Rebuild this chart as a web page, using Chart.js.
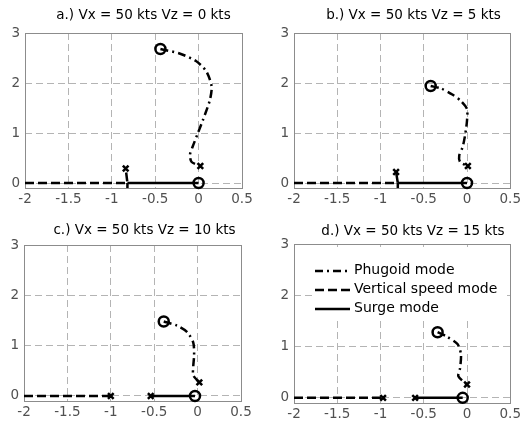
<!DOCTYPE html>
<html>
<head>
<meta charset="utf-8">
<script src="https://cdn.jsdelivr.net/npm/chart.js@4.4.1/dist/chart.umd.min.js"></script>
<style>
body { margin: 0; background: #fff; }
#wrap { position: relative; width: 524px; height: 425px; }
canvas { position: absolute; }
</style>
</head>
<body>
<div id="wrap">
    <canvas id="chartA" width="262" height="212" style="left:0;top:0"></canvas>
    <canvas id="chartB" width="262" height="212" style="left:262px;top:0"></canvas>
    <canvas id="chartC" width="262" height="213" style="left:0;top:212px"></canvas>
    <canvas id="chartD" width="262" height="213" style="left:262px;top:212px"></canvas>
</div>
<script>
// axis ticks shared by all four panels
const xTicks = [-2, -1.5, -1, -0.5, 0, 0.5];
const yTicks = [0, 1, 2, 3];
const legendLabels = ['Phugoid mode', 'Vertical speed mode', 'Surge mode'];

// a.) Vz = 0 kts
const phugoidA = [[-0.44, 2.68], [-0.22, 2.59], [-0.03, 2.44], [0.09, 2.23], [0.15, 1.93], [0.13, 1.66],
                  [0.05, 1.26], [-0.01, 0.99], [-0.07, 0.72], [-0.10, 0.56], [-0.08, 0.42], [0.02, 0.34]];
const verticalA = [[-2, 0], [-0.82, 0], [-0.84, 0.29]];
const branchA = [[-0.82, 0], [-0.82, -0.3]];
const surgeA = [[-0.82, 0], [0, 0]];
const zerosA = [[-0.44, 2.68], [0, 0]];
const polesA = [[0.02, 0.34], [-0.84, 0.29]];

// b.) Vz = 5 kts
const phugoidB = [[-0.42, 1.94], [-0.30, 1.89], [-0.17, 1.77], [-0.07, 1.64], [0.0, 1.48], [0.0, 1.25],
                  [-0.02, 0.98], [-0.05, 0.72], [-0.09, 0.55], [-0.08, 0.42], [0.01, 0.34]];
const verticalB = [[-2, 0], [-0.80, 0], [-0.82, 0.22]];
const branchB = [[-0.80, 0], [-0.80, -0.3]];
const surgeB = [[-0.80, 0], [0, 0]];
const zerosB = [[-0.42, 1.94], [0, 0]];
const polesB = [[0.01, 0.34], [-0.82, 0.22]];

// c.) Vz = 10 kts
const phugoidC = [[-0.39, 1.48], [-0.24, 1.40], [-0.12, 1.27], [-0.05, 1.06], [-0.04, 0.82],
                  [-0.05, 0.59], [-0.05, 0.41], [0.02, 0.27]];
const verticalC = [[-2, 0], [-1.0, 0]];
const surgeC = [[-0.54, 0], [-0.03, 0]];
const zerosC = [[-0.39, 1.48], [-0.03, 0]];
const polesC = [[0.02, 0.27], [-1.0, 0], [-0.54, 0]];

// d.) Vz = 15 kts
const phugoidD = [[-0.34, 1.28], [-0.23, 1.19], [-0.11, 1.05], [-0.07, 0.85], [-0.08, 0.58],
                  [-0.10, 0.42], [0.0, 0.26]];
const verticalD = [[-2, 0], [-0.97, 0]];
const surgeD = [[-0.60, 0], [-0.05, 0]];
const zerosD = [[-0.34, 1.28], [-0.05, 0]];
const polesD = [[0.0, 0.26], [-0.97, 0], [-0.60, 0]];

const FONT = 'DejaVu Sans';
const DASH = [9, 4];
const DASHDOT = [8, 4, 2, 4];

function toXY(pts) {
    return pts.map(p => ({ x: p[0], y: p[1] }));
}

function lineSet(pts, dash, tension) {
    return {
        data: toXY(pts),
        showLine: true,
        borderColor: '#000',
        borderWidth: 2.5,
        borderDash: dash,
        pointRadius: 0,
        tension: tension || 0
    };
}

function markerSet(pts, style, radius) {
    return {
        data: toXY(pts),
        showLine: false,
        pointStyle: style,
        pointRadius: radius,
        pointHoverRadius: radius,
        pointBorderWidth: 2.5,
        pointBorderColor: '#000',
        pointBackgroundColor: 'rgba(0,0,0,0)',
        clip: false
    };
}

// box around the axes, title, optional legend
const framePlugin = {
    id: 'frame',
    beforeDatasetsDraw(chart) {
        const a = chart.chartArea;
        const ctx = chart.ctx;
        ctx.save();
        ctx.strokeStyle = '#8c8c8c';
        ctx.lineWidth = 1;
        ctx.strokeRect(Math.round(a.left) + 0.5, Math.round(a.top) + 0.5,
                       Math.round(a.right - a.left), Math.round(a.bottom - a.top));
        ctx.restore();
    },
    afterDraw(chart, args, opts) {
        const ctx = chart.ctx;
        ctx.save();
        ctx.fillStyle = '#000';
        ctx.font = '13.5px "' + FONT + '"';
        ctx.textAlign = 'center';
        ctx.textBaseline = 'middle';
        ctx.fillText(opts.title, opts.titleX, opts.titleY);

        if (opts.legend) {
            const lg = opts.legend;
            ctx.fillStyle = '#fff';
            ctx.fillRect(lg.x, lg.y, lg.w, lg.h);
            const dashes = [DASHDOT, DASH, []];
            ctx.font = '14px "' + FONT + '"';
            ctx.textAlign = 'left';
            legendLabels.forEach((label, i) => {
                const y = lg.rowY + i * lg.rowGap;
                ctx.strokeStyle = '#000';
                ctx.lineWidth = 2.5;
                ctx.setLineDash(dashes[i]);
                ctx.beginPath();
                ctx.moveTo(lg.lineX0, y);
                ctx.lineTo(lg.lineX1, y);
                ctx.stroke();
                ctx.setLineDash([]);
                ctx.fillStyle = '#000';
                ctx.fillText(label, lg.textX, y - 1);
            });
        }
        ctx.restore();
    }
};

function makePanel(id, sets, box, frame) {
    const ctx = document.getElementById(id).getContext('2d');
    return new Chart(ctx, {
        type: 'scatter',
        data: { datasets: sets },
        options: {
            responsive: false,
            animation: false,
            events: [],
            layout: { padding: { left: 0, top: box.top, right: box.right, bottom: 0 } },
            plugins: {
                legend: { display: false },
                tooltip: { enabled: false },
                frame: frame
            },
            scales: {
                x: {
                    type: 'linear',
                    min: -2,
                    max: 0.5,
                    afterBuildTicks: s => { s.ticks = xTicks.map(v => ({ value: v })); },
                    afterFit: s => { s.height = box.bottomSpace; },
                    ticks: {
                        color: '#505050',
                        font: { family: FONT, size: 13.5 },
                        padding: 3,
                        maxRotation: 0,
                        callback: v => String(v)
                    },
                    grid: { color: '#b4b4b4', lineWidth: 1, drawTicks: false },
                    border: { display: false, dash: [7, 4] }
                },
                y: {
                    type: 'linear',
                    min: -0.1,
                    max: 3,
                    afterBuildTicks: s => { s.ticks = yTicks.map(v => ({ value: v })); },
                    afterFit: s => { s.width = box.left; },
                    ticks: {
                        color: '#505050',
                        font: { family: FONT, size: 13.5 },
                        padding: 5,
                        callback: v => String(v)
                    },
                    grid: { color: '#b4b4b4', lineWidth: 1, drawTicks: false },
                    border: { display: false, dash: [7, 4] }
                }
            }
        },
        plugins: [framePlugin]
    });
}

function panelSets(phugoid, vertical, branch, surge, zeros, poles) {
    const sets = [
        lineSet(phugoid, DASHDOT, 0.25),
        lineSet(vertical, DASH),
        lineSet(surge, [])
    ];
    if (branch) sets.push(lineSet(branch, DASH));
    sets.push(markerSet(zeros, 'circle', 5));
    sets.push(markerSet(poles, 'crossRot', 4));
    return sets;
}

makePanel('chartA', panelSets(phugoidA, verticalA, branchA, surgeA, zerosA, polesA),
    { left: 25, right: 20, top: 33, bottomSpace: 24 },
    { title: 'a.) Vx = 50 kts Vz = 0 kts', titleX: 143.5, titleY: 15.5 });

makePanel('chartB', panelSets(phugoidB, verticalB, branchB, surgeB, zerosB, polesB),
    { left: 32, right: 12, top: 33, bottomSpace: 24 },
    { title: 'b.) Vx = 50 kts Vz = 5 kts', titleX: 151.5, titleY: 15.5 });

makePanel('chartC', panelSets(phugoidC, verticalC, null, surgeC, zerosC, polesC),
    { left: 24, right: 21, top: 33, bottomSpace: 24 },
    { title: 'c.) Vx = 50 kts Vz = 10 kts', titleX: 144.5, titleY: 18 });

makePanel('chartD', panelSets(phugoidD, verticalD, null, surgeD, zerosD, polesD),
    { left: 32, right: 12, top: 32, bottomSpace: 22 },
    { title: 'd.) Vx = 50 kts Vz = 15 kts', titleX: 151, titleY: 19,
      legend: { x: 50, y: 35, w: 195, h: 72, rowY: 59, rowGap: 19, lineX0: 53, lineX1: 88, textX: 92 } });
</script>
</body>
</html>
